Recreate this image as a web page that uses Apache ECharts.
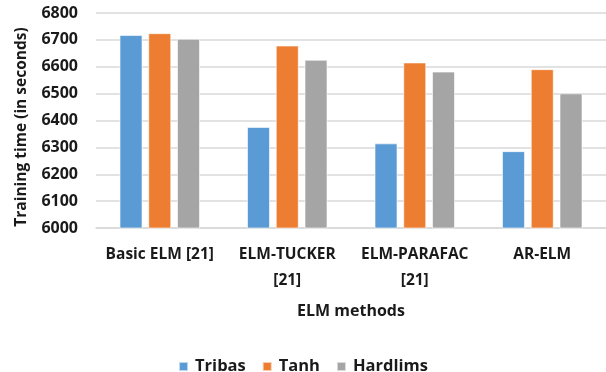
<!DOCTYPE html>
<html><head><meta charset="utf-8">
<script src="https://cdn.jsdelivr.net/npm/echarts@6/dist/echarts.min.js"></script>
<style>html,body{margin:0;padding:0;background:#fff}#c{width:606px;height:372px}</style>
</head><body><div id="c"></div>
<script>
const categories = ['Basic ELM [21]', 'ELM-TUCKER\n[21]', 'ELM-PARAFAC\n[21]', 'AR-ELM'];
const tribas = [6718, 6376, 6315, 6286];
const tanh = [6725, 6679, 6616, 6591];
const hardlims = [6704, 6626, 6582, 6501];
const seriesNames = ['Tribas', 'Tanh', 'Hardlims'];
const yTitle = 'Training time (in seconds)';
const xTitle = 'ELM methods';
const colors = ['#5B9BD5', '#ED7D31', '#A5A5A5'];
const FONT = 'Open Sans';
const TXT = '#1a1a1a';
const chart = echarts.init(document.getElementById('c'));
const mk = (name, data, i) => ({
  name, type: 'bar', data, barWidth: 23, barGap: '25%',
  itemStyle: { color: colors[i], borderColor: 'rgba(255,255,255,0.6)', borderWidth: 1 }
});
chart.setOption({
  animation: false,
  textStyle: { fontFamily: FONT },
  grid: { left: 96, right: 0, top: 13, bottom: 144 },
  graphic: [{
    type: 'text', x: 22, y: 127, rotation: Math.PI / 2,
    style: { text: yTitle, fontFamily: FONT, fontWeight: 'bold', fontSize: 15.5, fill: TXT, align: 'center', verticalAlign: 'middle' }
  }],
  legend: {
    top: 353, left: 'center', itemWidth: 9, itemHeight: 9, itemGap: 16, icon: 'rect',
    textStyle: { fontFamily: FONT, fontWeight: 'bold', fontSize: 16.5, color: TXT, padding: [0, 0, 0, 2] },
    data: seriesNames
  },
  xAxis: {
    type: 'category', data: categories,
    name: xTitle, nameLocation: 'middle', nameGap: 75,
    nameTextStyle: { fontFamily: FONT, fontWeight: 'bold', fontSize: 16, color: TXT },
    axisLine: { lineStyle: { color: '#D9D9D9', width: 1.5 } }, axisTick: { show: false },
    axisLabel: { interval: 0, fontFamily: FONT, fontWeight: 'bold', fontSize: 15.5, color: TXT, lineHeight: 26, margin: 14 }
  },
  yAxis: {
    type: 'value', min: 6000, max: 6800, interval: 100,
    axisLine: { show: false }, axisTick: { show: false },
    axisLabel: { fontFamily: FONT, fontWeight: 'bold', fontSize: 16, color: TXT, margin: 18, formatter: v => String(v) },
    splitLine: { lineStyle: { color: '#D9D9D9', width: 1.5 } }
  },
  series: [mk(seriesNames[0], tribas, 0), mk(seriesNames[1], tanh, 1), mk(seriesNames[2], hardlims, 2)]
});
</script></body></html>
